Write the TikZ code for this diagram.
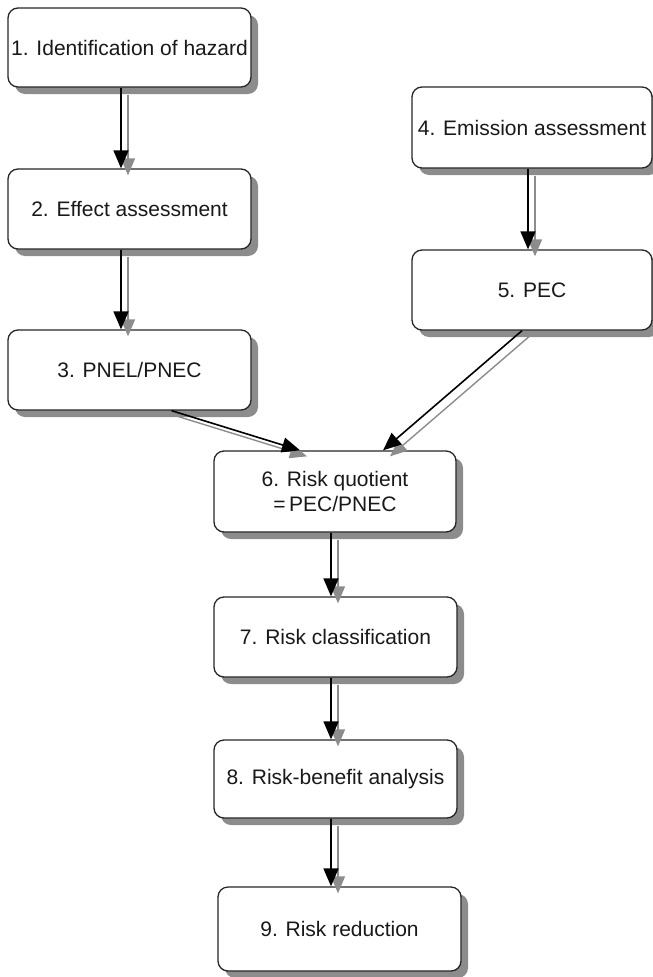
\documentclass[tikz,border=0pt]{standalone}
\usepackage{fontspec}
\setmainfont{Liberation Sans}
\usetikzlibrary{arrows.meta,shadows}
\begin{document}
\begin{tikzpicture}[x=1pt,y=-1pt,
  box/.style={draw=black!85, line width=1.3pt, rounded corners=10pt, fill=white,
    inner sep=0pt, align=center, text=black!90, font=\fontsize{21}{25}\selectfont,
    drop shadow={shadow xshift=7pt, shadow yshift=-7pt, fill=black!45, opacity=1}},
  arr/.style={line width=1.6pt, black, -{Triangle[width=15pt,length=18pt]}},
  sharr/.style={line width=1.4pt, black!45, -{Triangle[width=14pt,length=17pt]}}]
\useasboundingbox (0,0) rectangle (653,977);

\node[box, minimum width=243pt, minimum height=79pt] (b1) at (129.5,47.5) {1. Identification of hazard};
\node[box, minimum width=243pt, minimum height=80pt] (b2) at (129.5,209) {2. Effect assessment};
\node[box, minimum width=243pt, minimum height=80pt] (b3) at (129.5,370) {3. PNEL/PNEC};
\node[box, minimum width=240pt, minimum height=81pt] (b4) at (532,127.5) {4. Emission assessment};
\node[box, minimum width=240pt, minimum height=80pt] (b5) at (532,290) {5. PEC};
\node[box, minimum width=242pt, minimum height=81pt] (b6) at (335,491.5) {6. Risk quotient\\=\,PEC/PNEC};
\node[box, minimum width=243pt, minimum height=80pt] (b7) at (335.5,637) {7. Risk classification};
\node[box, minimum width=243pt, minimum height=78pt] (b8) at (335.5,779) {8. Risk-benefit analysis};
\node[box, minimum width=243pt, minimum height=84pt] (b9) at (339.5,929) {9. Risk reduction};

% connector end points
\coordinate (s12) at ([xshift=-8.5pt]b1.south);
\coordinate (e12) at ([xshift=-8.5pt]b2.north);
\coordinate (s23) at ([xshift=-8.5pt]b2.south);
\coordinate (e23) at ([xshift=-8.5pt]b3.north);
\coordinate (s45) at ([xshift=-4pt]b4.south);
\coordinate (e45) at ([xshift=-4pt]b5.north);
\coordinate (s36) at ([xshift=42pt]b3.south);
\coordinate (e36) at ([xshift=-35pt]b6.north);
\coordinate (s56) at ([xshift=-10pt]b5.south);
\coordinate (e56) at ([xshift=48pt]b6.north);
\coordinate (s67) at ([xshift=-4pt]b6.south);
\coordinate (e67) at ([xshift=-4.5pt]b7.north);
\coordinate (s78) at ([xshift=-4.5pt]b7.south);
\coordinate (e78) at ([xshift=-4.5pt]b8.north);
\coordinate (s89) at ([xshift=-4.5pt]b8.south);
\coordinate (e89) at ([xshift=-8.5pt]b9.north);

% grey shadow arrows
\foreach \a/\b in {s12/e12, s23/e23, s45/e45, s67/e67, s78/e78, s89/e89}
  \draw[sharr] ([xshift=7pt,yshift=-7pt]\a) -- ([xshift=7pt,yshift=-7pt]\b);
\foreach \a/\b in {s36/e36, s56/e56}
  \draw[sharr] ([xshift=7pt,yshift=-6pt]\a) -- ([xshift=7pt,yshift=-6pt]\b);

% black arrows
\foreach \a/\b in {s12/e12, s23/e23, s45/e45, s36/e36, s56/e56, s67/e67, s78/e78, s89/e89}
  \draw[arr] (\a) -- (\b);
\end{tikzpicture}
\end{document}
